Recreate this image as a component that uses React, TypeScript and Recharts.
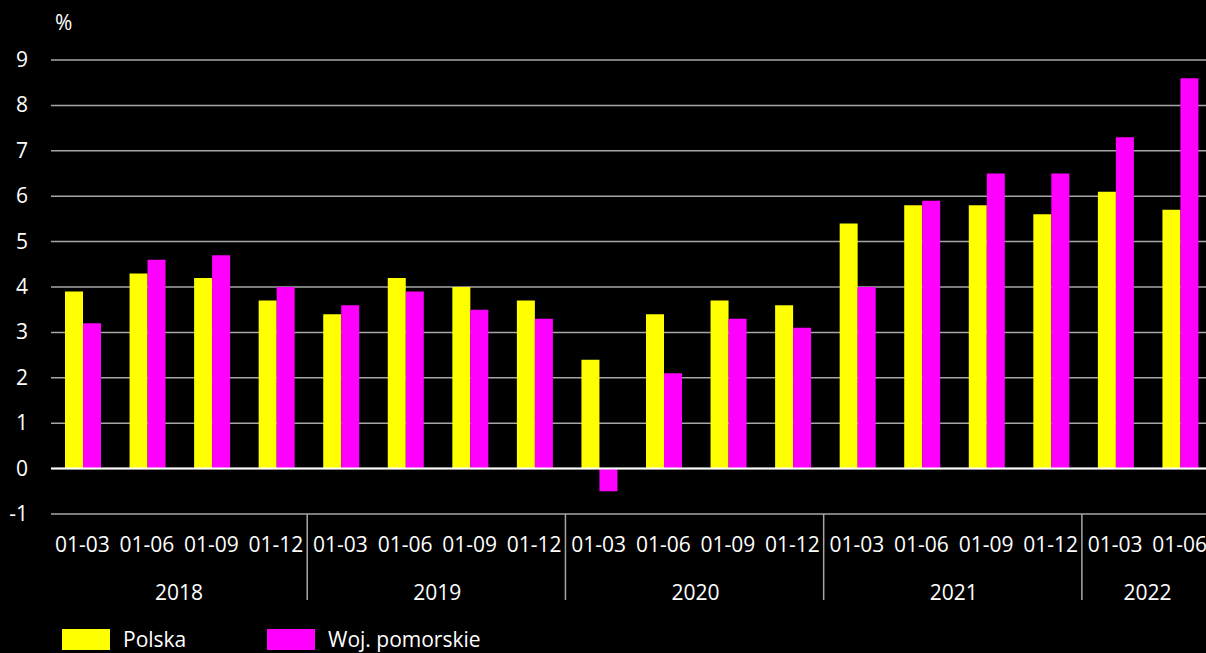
import React from 'react';
import { BarChart, Bar, XAxis, YAxis, CartesianGrid, ReferenceLine } from 'recharts';

const periods = ['01-03', '01-06', '01-09', '01-12', '01-03', '01-06', '01-09', '01-12', '01-03', '01-06', '01-09', '01-12', '01-03', '01-06', '01-09', '01-12', '01-03', '01-06'];
const years = ['2018', '2018', '2018', '2018', '2019', '2019', '2019', '2019', '2020', '2020', '2020', '2020', '2021', '2021', '2021', '2021', '2022', '2022'];
const polska = [3.9, 4.3, 4.2, 3.7, 3.4, 4.2, 4.0, 3.7, 2.4, 3.4, 3.7, 3.6, 5.4, 5.8, 5.8, 5.6, 6.1, 5.7];
const pomorskie = [3.2, 4.6, 4.7, 4.0, 3.6, 3.9, 3.5, 3.3, -0.5, 2.1, 3.3, 3.1, 4.0, 5.9, 6.5, 6.5, 7.3, 8.6];
const yTicks = [-1, 0, 1, 2, 3, 4, 5, 6, 7, 8, 9];

const series = [
  { key: 'polska', name: 'Polska', color: '#FFFF00' },
  { key: 'pomorskie', name: 'Woj. pomorskie', color: '#FF00FF' },
];

const data = periods.map((p, i) => ({ period: p, year: years[i], polska: polska[i], pomorskie: pomorskie[i] }));

const FONT = '"Open Sans", "Noto Sans", sans-serif';
const GRID = '#a6a6a6';

const PeriodTick = (props: any) => {
  const { x, y, payload } = props;
  const i = payload.index ?? props.index;
  const half = payload.offset ?? 32;
  const year = years[i];
  const first = i === 0 || years[i - 1] !== year;
  const count = years.filter(v => v === year).length;
  return (
    <g>
      <text x={x - 1} y={y + 38} textAnchor="middle" fill="#fff" fontSize={21} fontFamily={FONT}>{payload.value}</text>
      {first && (
        <text x={x + (count - 1) * half - 1} y={y + 86} textAnchor="middle" fill="#fff" fontSize={21} fontFamily={FONT}>{year}</text>
      )}
      {first && i > 0 && (
        <line x1={x - half - 2} x2={x - half - 2} y1={y} y2={y + 86} stroke={GRID} strokeWidth={1.5} />
      )}
    </g>
  );
};

const ValueTick = (props: any) => {
  const { y, payload } = props;
  return (
    <text x={28} y={y + 7} textAnchor="end" fill="#fff" fontSize={21} fontFamily={FONT}>{payload.value}</text>
  );
};

export default function App() {
  return (
    <div style={{ position: 'absolute', left: 0, top: 0, width: 1206, height: 653, background: '#000', overflow: 'hidden', fontFamily: FONT }}>
      <div style={{ position: 'absolute', left: 55, top: 8, color: '#fff', fontSize: 21 }}>%</div>
      <BarChart
        width={1213}
        height={653}
        data={data}
        margin={{ top: 60, right: 0, bottom: 0, left: 0 }}
        barGap={0}
        barSize={18}
      >
        <CartesianGrid horizontal vertical={false} stroke={GRID} strokeWidth={1.5} />
        <XAxis
          dataKey="period"
          interval={0}
          height={139}
          axisLine={false}
          tickLine={false}
          tickSize={0}
          tickMargin={0}
          tick={<PeriodTick />}
        />
        <YAxis
          width={51}
          domain={[-1, 9]}
          ticks={yTicks}
          interval={0}
          axisLine={false}
          tickLine={false}
          tick={<ValueTick />}
        />
        {series.map(s => (
          <Bar key={s.key} dataKey={s.key} name={s.name} fill={s.color} isAnimationActive={false} />
        ))}
        <ReferenceLine y={0} stroke="#fff" strokeWidth={2} />
      </BarChart>
      <div style={{ position: 'absolute', left: 62, top: 629, display: 'flex', color: '#fff', fontSize: 21, lineHeight: '21px', whiteSpace: 'nowrap' }}>
        {series.map(s => (
          <div key={s.key} style={{ display: 'flex', alignItems: 'flex-start', width: 205 }}>
            <span style={{ display: 'inline-block', width: 48, height: 21, background: s.color, marginRight: 13, flexShrink: 0 }} />
            <span>{s.name}</span>
          </div>
        ))}
      </div>
    </div>
  );
}
